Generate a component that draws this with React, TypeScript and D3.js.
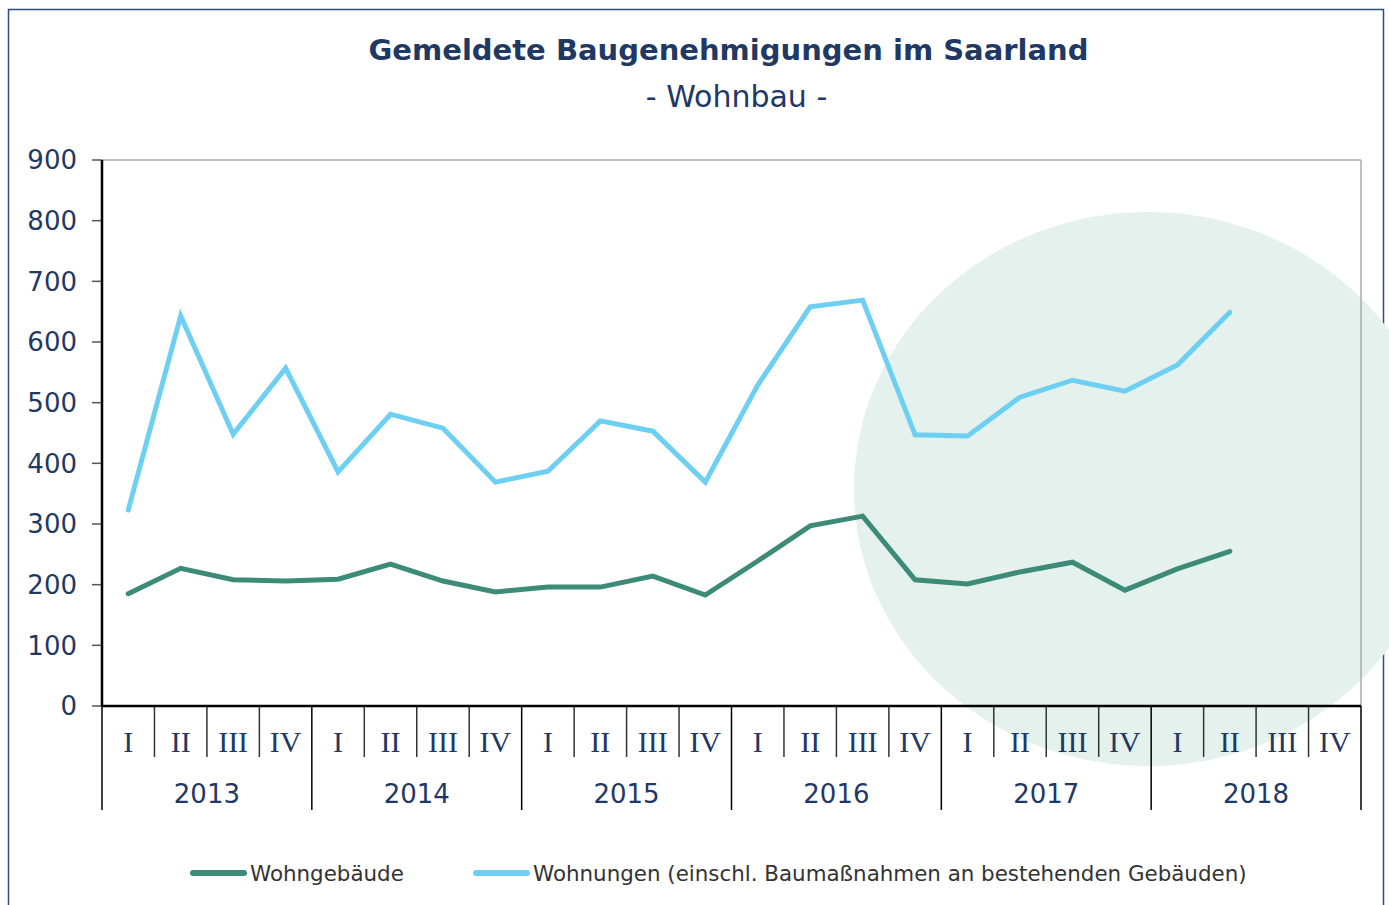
import React from "react";
import * as d3 from "d3";

const years = ["2013", "2014", "2015", "2016", "2017", "2018"];
const quarters = ["I", "II", "III", "IV"];
const yTicks = [0, 100, 200, 300, 400, 500, 600, 700, 800, 900];

// 2013-I .. 2018-II
const wohngebaeude = [185, 227, 208, 206, 209, 234, 206, 188, 196, 196, 214, 183, 239, 297, 313, 208, 201, 221, 237, 191, 226, 255];
const wohnungen = [323, 643, 448, 557, 386, 481, 458, 369, 387, 470, 453, 369, 529, 658, 669, 447, 445, 509, 537, 519, 562, 649];

const seriesNames = ["Wohngebäude", "Wohnungen (einschl. Baumaßnahmen an bestehenden Gebäuden)"];
const colors = ["#3c8a78", "#6dcff2"];

const navy = "#1f3864";
const sans = "'DejaVu Sans', Verdana, sans-serif";
const serif = "'Liberation Serif', 'Times New Roman', serif";

export default function App() {
  const W = 1389, H = 905;
  const left = 102, right = 1361, top = 160, bottom = 706;
  const keys: string[] = [];
  years.forEach((y) => quarters.forEach((q) => keys.push(y + "-" + q)));
  const x = d3.scaleBand<string>().domain(keys).range([left, right]);
  const y = d3.scaleLinear().domain([0, 900]).range([bottom, top]);
  const cx = (i: number) => (x(keys[i]) as number) + x.bandwidth() / 2;
  const line = d3.line<number>().x((_, i) => cx(i)).y((d) => y(d));
  const yearW = x.bandwidth() * 4;

  return (
    <svg width={W} height={H} style={{ position: "absolute", left: 0, top: 0 }}>
      <rect x={0} y={0} width={W} height={H} fill="#fff" />
      <rect x={8.5} y={9.5} width={1375} height={920} fill="none" stroke="#2f4a80" strokeWidth={1.5} />
      <ellipse cx={1148} cy={489} rx={294} ry={277} fill="#e4f1ec" />
      <text x={728.5} y={60} textAnchor="middle" fontFamily={sans} fontWeight="bold" fontSize={29} fill={navy}>
        Gemeldete Baugenehmigungen im Saarland
      </text>
      <text x={736.5} y={107} textAnchor="middle" fontFamily={sans} fontSize={30} fill={navy}>
        - Wohnbau -
      </text>
      {/* plot frame top/right */}
      <line x1={left} x2={right} y1={top} y2={top} stroke="#aaa" strokeWidth={1.5} />
      <line x1={right} x2={right} y1={top} y2={bottom} stroke="#aaa" strokeWidth={1.5} />
      {/* y axis */}
      {yTicks.map((t) => (
        <g key={t}>
          <line x1={92} x2={left} y1={y(t)} y2={y(t)} stroke="#555" strokeWidth={1.5} />
          <text x={77} y={y(t)} dy="0.36em" textAnchor="end" fontFamily={sans} fontSize={26} fill={navy}>
            {t}
          </text>
        </g>
      ))}
      <line x1={left} x2={left} y1={top} y2={bottom} stroke="#000" strokeWidth={2.5} />
      {/* series */}
      <path d={line(wohngebaeude) || ""} fill="none" stroke={colors[0]} strokeWidth={5} strokeLinejoin="miter" strokeLinecap="round" />
      <path d={line(wohnungen) || ""} fill="none" stroke={colors[1]} strokeWidth={5} strokeLinejoin="miter" strokeLinecap="round" />
      {/* x axis */}
      {keys.map((k, i) => {
        const x0 = x(k) as number;
        const isYear = i % 4 === 0;
        return (
          <g key={k}>
            {i > 0 && (
              <line x1={x0} x2={x0} y1={bottom} y2={isYear ? 810 : 757} stroke={isYear ? "#000" : "#333"} strokeWidth={1.5} />
            )}
            <text x={x0 + x.bandwidth() / 2} y={752} textAnchor="middle" fontFamily={serif} fontSize={30} fill={navy}>
              {quarters[i % 4]}
            </text>
          </g>
        );
      })}
      <line x1={left} x2={left} y1={bottom} y2={810} stroke="#000" strokeWidth={1.5} />
      <line x1={right} x2={right} y1={bottom} y2={810} stroke="#000" strokeWidth={1.5} />
      {years.map((yr, j) => (
        <text key={yr} x={left + yearW * j + yearW / 2} y={803} textAnchor="middle" fontFamily={sans} fontSize={26} fill={navy}>
          {yr}
        </text>
      ))}
      <line x1={left - 1} x2={right} y1={bottom} y2={bottom} stroke="#000" strokeWidth={2.5} />
      {/* legend */}
      {[193, 476].map((lx, i) => (
        <g key={i}>
          <line x1={lx} x2={lx + 51} y1={873} y2={873} stroke={colors[i]} strokeWidth={6} strokeLinecap="round" />
          <text x={lx + 57} y={873} dy="0.36em" fontFamily={sans} fontSize={21.4} fill="#333">
            {seriesNames[i]}
          </text>
        </g>
      ))}
    </svg>
  );
}
